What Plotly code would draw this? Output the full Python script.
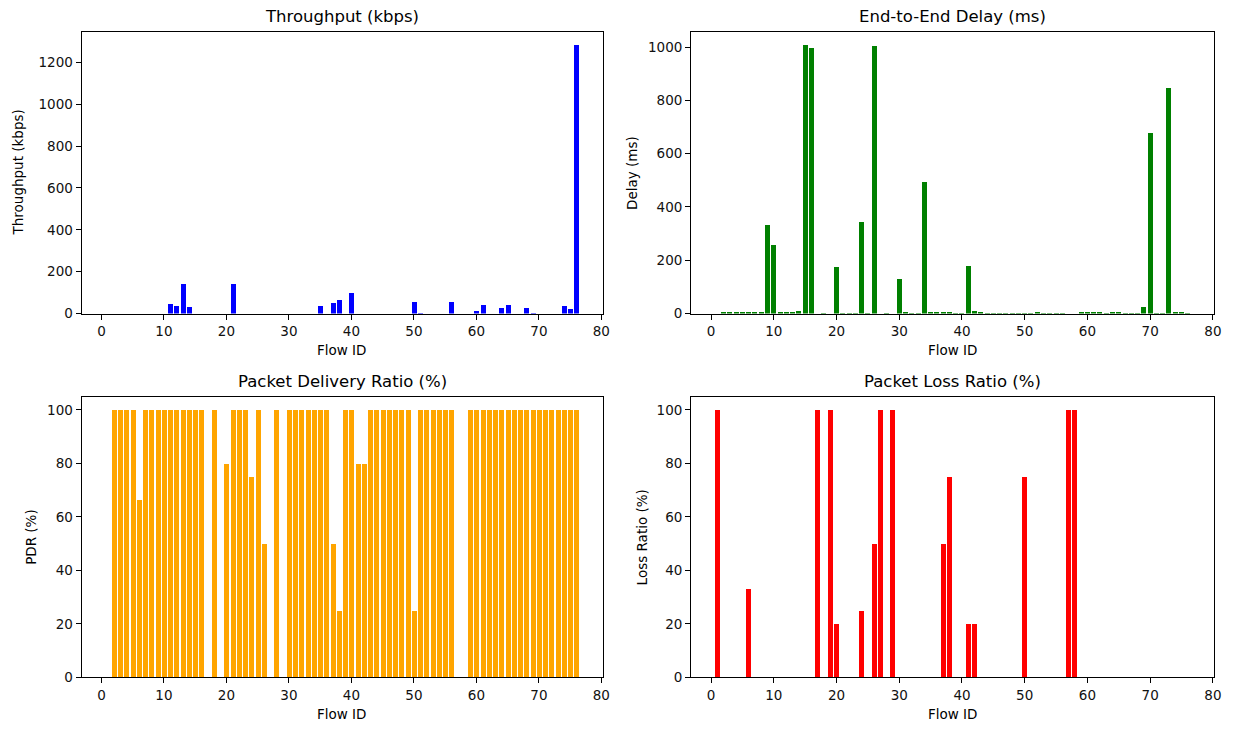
import plotly.graph_objects as go

W, H = 1235, 729

flow_ids = list(range(1, 77))

throughput_kbps = [
    0, 0, 0, 0, 0, 0, 0, 0, 0, 0,          # 1-10
    48, 38, 143, 32, 0, 0, 0, 0, 0, 0,     # 11-20
    143, 0, 0, 0, 0, 0, 0, 0, 0, 0,        # 21-30
    0, 0, 0, 0, 40, 0, 53, 66, 0, 100,     # 31-40
    0, 0, 0, 0, 0, 0, 0, 0, 0, 55,         # 41-50
    4, 0, 0, 0, 0, 57, 0, 0, 0, 12,        # 51-60
    41, 0, 0, 27, 41, 0, 0, 30, 3, 0,      # 61-70
    0, 0, 0, 37, 25, 1283,                 # 71-76
]

delay_ms = [
    0, 4, 4, 4, 4, 4, 4, 4, 335, 258,      # 1-10
    5, 5, 5, 9, 1008, 1000, 0, 3, 0, 176,  # 11-20
    1, 3, 1, 344, 3, 1004, 0, 1, 0, 130,   # 21-30
    4, 1, 1, 497, 4, 4, 4, 4, 1, 1,        # 31-40
    180, 12, 4, 1, 3, 3, 1, 1, 1, 3,       # 41-50
    1, 5, 1, 3, 3, 3, 0, 0, 4, 7,          # 51-60
    7, 4, 1, 6, 5, 1, 3, 3, 27, 678,       # 61-70
    3, 1, 848, 5, 5, 1,                    # 71-76
]

pdr_pct = [
    0, 100, 100, 100, 100, 66.67, 100, 100, 100, 100,   # 1-10
    100, 100, 100, 100, 100, 100, 0, 100, 0, 80,        # 11-20
    100, 100, 100, 75, 100, 50, 0, 100, 0, 100,         # 21-30
    100, 100, 100, 100, 100, 100, 50, 25, 100, 100,     # 31-40
    80, 80, 100, 100, 100, 100, 100, 100, 100, 25,      # 41-50
    100, 100, 100, 100, 100, 100, 0, 0, 100, 100,       # 51-60
    100, 100, 100, 100, 100, 100, 100, 100, 100, 100,   # 61-70
    100, 100, 100, 100, 100, 100,                       # 71-76
]

loss_pct = [
    100, 0, 0, 0, 0, 33.33, 0, 0, 0, 0,    # 1-10
    0, 0, 0, 0, 0, 0, 100, 0, 100, 20,     # 11-20
    0, 0, 0, 25, 0, 50, 100, 0, 100, 0,    # 21-30
    0, 0, 0, 0, 0, 0, 50, 75, 0, 0,        # 31-40
    20, 20, 0, 0, 0, 0, 0, 0, 0, 75,       # 41-50
    0, 0, 0, 0, 0, 0, 100, 100, 0, 0,      # 51-60
    0, 0, 0, 0, 0, 0, 0, 0, 0, 0,          # 61-70
    0, 0, 0, 0, 0, 0,                      # 71-76
]

x_ticks = [0, 10, 20, 30, 40, 50, 60, 70, 80]

panels = [
    # (values, color, title, ylabel, yticks, ymax, xdom px, ydom px)
    (throughput_kbps, "#0000ff", "Throughput (kbps)", "Throughput (kbps)",
     [0, 200, 400, 600, 800, 1000, 1200], 1283 * 1.05, (82, 606), (32, 317)),
    (delay_ms, "#008000", "End-to-End Delay (ms)", "Delay (ms)",
     [0, 200, 400, 600, 800, 1000], 1008 * 1.05, (695, 1221), (32, 317)),
    (pdr_pct, "#ffa500", "Packet Delivery Ratio (%)", "PDR (%)",
     [0, 20, 40, 60, 80, 100], 105, (82, 606), (401, 685)),
    (loss_pct, "#ff0000", "Packet Loss Ratio (%)", "Loss Ratio (%)",
     [0, 20, 40, 60, 80, 100], 105, (695, 1221), (401, 685)),
]

ylabel_x = [18, 635, 31, 646]

fig = go.Figure()
font = "DejaVu Sans, sans-serif"
annotations = []
layout = {}

for i, (vals, color, title, ylab, yt, ymax, xd, yd) in enumerate(panels):
    n = "" if i == 0 else str(i + 1)
    fig.add_trace(go.Bar(
        x=flow_ids, y=vals, width=0.8, marker=dict(color=color, line=dict(width=0)),
        xaxis="x" + n, yaxis="y" + n, showlegend=False,
    ))
    xdom = [xd[0] / W, xd[1] / W]
    ydom = [1 - yd[1] / H, 1 - yd[0] / H]
    axis_common = dict(
        showline=True, linecolor="#000", linewidth=1, mirror=True,
        ticks="outside", ticklen=5, tickwidth=1, tickcolor="#000",
        showgrid=False, zeroline=False,
        tickfont=dict(family=font, size=13.5, color="#111"),
    )
    layout["xaxis" + n] = dict(
        domain=xdom, anchor="y" + n, range=[-3.19, 80.19],
        tickmode="array", tickvals=x_ticks, **axis_common,
    )
    layout["yaxis" + n] = dict(
        domain=ydom, anchor="x" + n, range=[0, ymax],
        tickmode="array", tickvals=yt, **axis_common,
    )
    cx = (xd[0] + xd[1]) / 2 / W
    # title
    annotations.append(dict(
        text=title, xref="paper", yref="paper", x=cx, y=1 - (yd[0] - 15) / H,
        xanchor="center", yanchor="middle", showarrow=False,
        font=dict(family=font, size=16.5, color="#000"),
    ))
    # x label
    annotations.append(dict(
        text="Flow ID", xref="paper", yref="paper", x=cx, y=1 - (yd[1] + 37) / H,
        xanchor="center", yanchor="middle", showarrow=False,
        font=dict(family=font, size=13.5, color="#000"),
    ))
    # y label
    annotations.append(dict(
        text=ylab, xref="paper", yref="paper", x=ylabel_x[i] / W,
        y=1 - ((yd[0] + yd[1]) / 2) / H, textangle=-90,
        xanchor="center", yanchor="middle", showarrow=False,
        font=dict(family=font, size=13.5, color="#000"),
    ))

fig.update_layout(
    width=W, height=H, margin=dict(l=0, r=0, t=0, b=0),
    paper_bgcolor="white", plot_bgcolor="white",
    annotations=annotations, bargap=0, **layout,
)

fig.write_html("out.html")
